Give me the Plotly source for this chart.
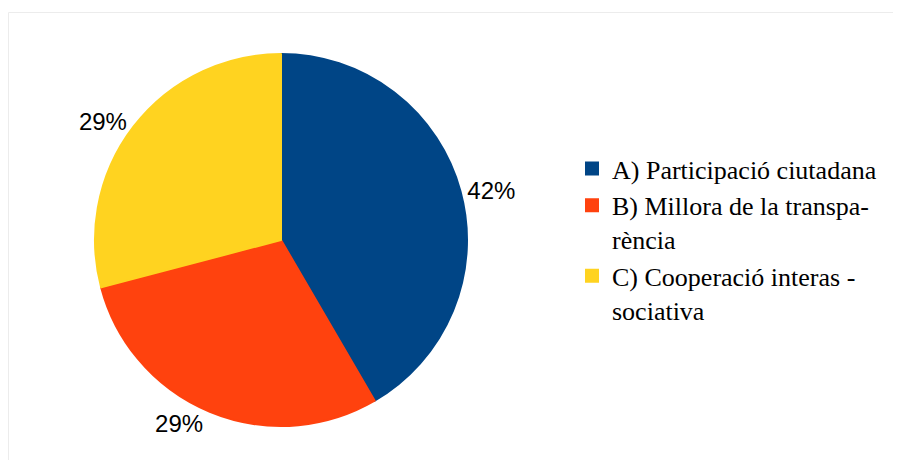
import plotly.graph_objects as go

W, H = 901, 460
OFF = 8  # page body margin in the viewer

categories = [
    "A) Participació ciutadana",
    "B) Millora de la transpa-<br>rència",
    "C) Cooperació interas -<br>sociativa",
]
values = [41.6, 29.3, 29.1]
colors = ["#004586", "#ff420e", "#ffd320"]

# pie geometry (page pixels in the reference)
cx, cy, r = 281 - OFF, 240 - OFF, 186


def px_x(p):
    return p / W


def px_y(p):
    return 1 - p / H


fig = go.Figure(
    go.Pie(
        labels=categories,
        values=values,
        sort=False,
        direction="clockwise",
        rotation=0,
        marker=dict(colors=colors, line=dict(width=2, color=colors)),
        textposition="outside",
        texttemplate="%{percent:.0%}",
        textfont=dict(family="Liberation Sans", size=24, color="#000000"),
        hoverinfo="label+percent",
        domain=dict(
            x=[px_x(cx - r), px_x(cx + r)],
            y=[px_y(cy + r), px_y(cy - r)],
        ),
    )
)

fig.update_layout(
    width=W,
    height=H,
    margin=dict(l=0, r=0, t=0, b=0),
    paper_bgcolor="#ffffff",
    plot_bgcolor="#ffffff",
    showlegend=True,
    legend=dict(
        x=px_x(612 - OFF - 40),
        xanchor="left",
        y=px_y(172 - OFF - 27),
        yanchor="top",
        valign="top",
        font=dict(family="Liberation Serif", size=26, color="#000000"),
        bgcolor="rgba(0,0,0,0)",
    ),
    shapes=[
        dict(
            type="rect",
            xref="paper",
            yref="paper",
            x0=px_x(8.5 - OFF),
            x1=1.05,
            y0=-0.05,
            y1=px_y(12.5 - OFF),
            line=dict(color="#ececec", width=1),
            fillcolor="rgba(0,0,0,0)",
            layer="below",
        )
    ],
)

fig.write_html("out.html")
